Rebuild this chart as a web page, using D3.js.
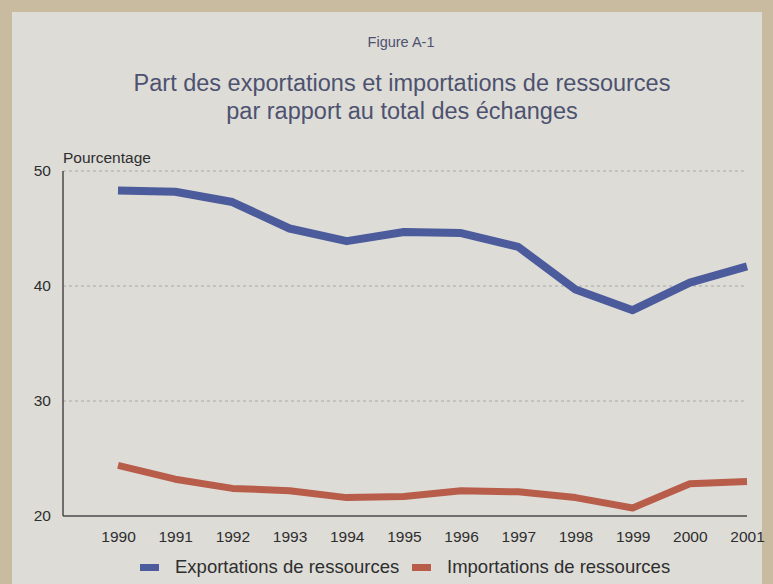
<!DOCTYPE html>
<html>
<head>
<meta charset="utf-8">
<script src="https://cdn.jsdelivr.net/npm/d3@7"></script>
<style>
  body { margin: 0; background: #c9bb9f; }
  svg { display: block; font-family: "Liberation Sans", Arial, sans-serif; }
</style>
</head>
<body>
<svg width="773" height="584"></svg>
<script>
var years = [1990, 1991, 1992, 1993, 1994, 1995, 1996, 1997, 1998, 1999, 2000, 2001];
var exportations = [48.3, 48.2, 47.3, 45.0, 43.9, 44.7, 44.6, 43.4, 39.7, 37.9, 40.3, 41.7];
var importations = [24.4, 23.2, 22.4, 22.2, 21.6, 21.7, 22.2, 22.1, 21.6, 20.7, 22.8, 23.0];
var yTicks = [20, 30, 40, 50];
var seriesNames = ["Exportations de ressources", "Importations de ressources"];
var seriesColors = ["#4b5b9b", "#b95d4b"];

var svg = d3.select("svg"),
    width = +svg.attr("width"),
    height = +svg.attr("height");

// light paper panel over the beige scan border
svg.append("rect")
    .attr("x", 12).attr("y", 12)
    .attr("width", 750).attr("height", height - 12)
    .attr("fill", "#dddcd7");

var x = d3.scalePoint()
    .domain(years)
    .range([118, 747]);

var y = d3.scaleLinear()
    .domain([20, 50])
    .range([516, 171]);

svg.append("text")
    .attr("x", 401).attr("y", 47)
    .attr("text-anchor", "middle")
    .attr("font-size", 14.5)
    .attr("fill", "#4d5270")
    .text("Figure A-1");

svg.append("text")
    .attr("text-anchor", "middle")
    .attr("font-size", 23.5)
    .attr("fill", "#4d5270")
  .selectAll("tspan")
  .data(["Part des exportations et importations de ressources", "par rapport au total des échanges"])
  .enter().append("tspan")
    .attr("x", 402)
    .attr("y", function(d, i) { return 91 + i * 28; })
    .text(function(d) { return d; });

// gridlines
svg.append("g")
  .selectAll("line")
  .data(yTicks.slice(1))
  .enter().append("line")
    .attr("x1", 63).attr("x2", 747)
    .attr("y1", function(d) { return y(d); })
    .attr("y2", function(d) { return y(d); })
    .attr("stroke", "#9a9a98")
    .attr("stroke-width", 0.8)
    .attr("stroke-dasharray", "3,3");

// y axis
var yAxis = svg.append("g")
    .attr("transform", "translate(63,0)")
    .call(d3.axisLeft(y).tickValues(yTicks).tickSize(0).tickPadding(12));
yAxis.select(".domain").attr("stroke", "#4a4a4a").attr("stroke-width", 1.5).attr("d", "M0,516V171");
yAxis.selectAll("text").attr("font-size", 15.5).attr("fill", "#2e2e2e").attr("font-family", "Liberation Sans, Arial, sans-serif");

// x axis
var xAxis = svg.append("g")
    .attr("transform", "translate(0,516)")
    .call(d3.axisBottom(x).tickSize(0).tickPadding(15));
xAxis.select(".domain").attr("stroke", "#4a4a4a").attr("stroke-width", 1.5).attr("d", "M63,0H747");
xAxis.selectAll("text").attr("font-size", 15.5).attr("fill", "#2e2e2e").attr("font-family", "Liberation Sans, Arial, sans-serif");

svg.append("text")
    .attr("x", 63).attr("y", 163)
    .attr("font-size", 15.5)
    .attr("fill", "#2e2e2e")
    .text("Pourcentage");

var line = d3.line()
    .x(function(d, i) { return x(years[i]); })
    .y(function(d) { return y(d); });

[exportations, importations].forEach(function(values, k) {
  svg.append("path")
      .datum(values)
      .attr("fill", "none")
      .attr("stroke", seriesColors[k])
      .attr("stroke-width", k === 0 ? 8 : 7)
      .attr("stroke-linejoin", "round")
      .attr("d", line);
});

// legend
var legend = svg.append("g")
  .selectAll("g")
  .data(seriesNames)
  .enter().append("g")
    .attr("transform", function(d, i) { return "translate(" + [140, 412][i] + ",567)"; });

legend.append("rect")
    .attr("x", 0).attr("y", -3)
    .attr("width", 19).attr("height", 7)
    .attr("fill", function(d, i) { return seriesColors[i]; });

legend.append("text")
    .attr("x", 35).attr("y", 6)
    .attr("font-size", 18.5)
    .attr("fill", "#2e2e2e")
    .text(function(d) { return d; });
</script>
</body>
</html>
